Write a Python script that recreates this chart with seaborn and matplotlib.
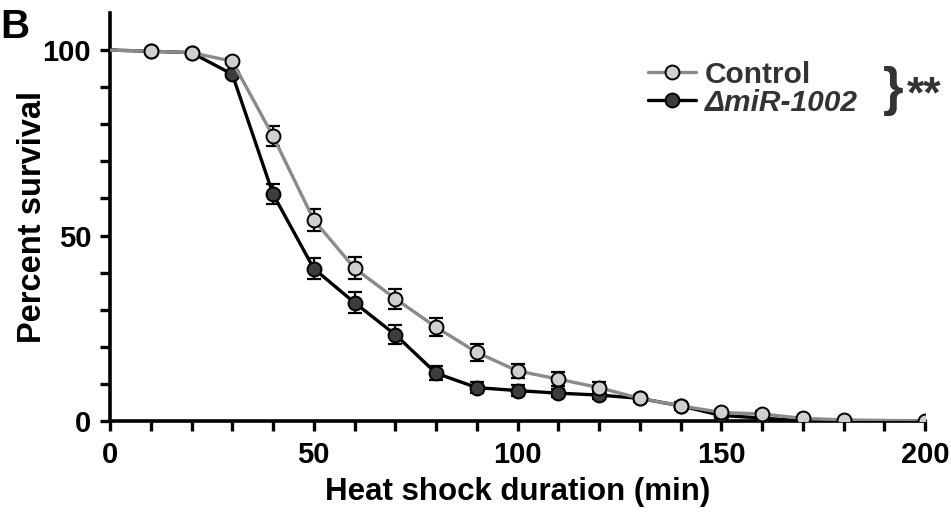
import matplotlib
matplotlib.use("Agg")
import matplotlib.pyplot as plt
import seaborn as sns
import pandas as pd
from matplotlib.lines import Line2D

# survival curves
minutes_ctrl = [0, 10, 20, 30, 40, 50, 60, 70, 80, 90, 100, 110, 120, 130, 140, 150, 160, 170, 180, 200]
surv_ctrl = [100, 99.7, 99.3, 97.0, 76.8, 54.2, 41.2, 33.0, 25.3, 18.5, 13.5, 11.3, 9.0, 6.1, 4.1, 2.3, 1.9, 0.7, 0.3, 0.0]
err_ctrl = [0, 0, 0, 0.8, 2.6, 3.0, 2.9, 2.7, 2.5, 2.2, 1.8, 1.8, 1.6, 1.0, 1.0, 0.8, 0.8, 0.5, 0.3, 0]

minutes_ko = [0, 10, 20, 30, 40, 50, 60, 70, 80, 90, 100, 110, 120, 130, 140, 150, 160, 170]
surv_ko = [100, 99.7, 99.3, 93.5, 61.2, 41.1, 31.9, 23.3, 12.9, 9.0, 8.2, 7.5, 7.0, 6.1, 4.1, 1.5, 0.8, 0.0]
err_ko = [0, 0, 0, 0.8, 2.8, 2.8, 2.8, 2.5, 1.8, 1.5, 1.5, 1.0, 1.0, 0.8, 0.8, 0.6, 0.5, 0]

labels = ["Control", "ΔmiR-1002"]

ctrl = pd.DataFrame({"min": minutes_ctrl, "surv": surv_ctrl, "err": err_ctrl})
ko = pd.DataFrame({"min": minutes_ko, "surv": surv_ko, "err": err_ko})

sns.set_style("ticks")
plt.rcParams["font.family"] = ["Liberation Sans", "DejaVu Sans"]
plt.rcParams["font.weight"] = "bold"
plt.rcParams["text.color"] = "black"
plt.rcParams["axes.labelcolor"] = "black"
plt.rcParams["xtick.color"] = "black"
plt.rcParams["ytick.color"] = "black"
plt.rcParams["axes.edgecolor"] = "black"

fig, ax = plt.subplots(figsize=(9.51, 5.13), dpi=100)
fig.subplots_adjust(left=110/951, right=925/951, bottom=1-421/513, top=1-13/513)

styles = [
    (ko, "black", "#3d3d3d"),
    (ctrl, "#8a8a8a", "#cfcfcf"),
]
for df, lc, fc in styles:
    ax.errorbar(df["min"], df["surv"], yerr=df["err"], fmt="none",
                ecolor="black", elinewidth=1.6, capsize=5, capthick=1.6, zorder=2)
    sns.lineplot(data=df, x="min", y="surv", ax=ax, color=lc, linewidth=2.4,
                 marker="o", markersize=10, markerfacecolor=fc,
                 markeredgecolor="black", markeredgewidth=1.4,
                 markevery=slice(1, None), zorder=3)

ax.set_xlim(0, 200)
ax.set_ylim(0, 110)
ax.set_xticks([0, 50, 100, 150, 200])
ax.set_xticks(range(0, 201, 10), minor=True)
ax.set_yticks([0, 50, 100])
ax.set_yticks(range(0, 101, 10), minor=True)
ax.tick_params(which="both", length=7.5, width=2.4, direction="out", labelsize=21)
ax.tick_params(axis="x", pad=7)
ax.tick_params(axis="y", pad=6)
for lab in ax.get_xticklabels() + ax.get_yticklabels():
    lab.set_fontweight("bold")
for s in ["left", "bottom"]:
    ax.spines[s].set_linewidth(2.6)
sns.despine(ax=ax)

ax.set_xlabel("Heat shock duration (min)", fontsize=22.5, fontweight="bold", labelpad=6)
ax.set_ylabel("Percent survival", fontsize=23.5, fontweight="bold", labelpad=-4)

handles = [
    Line2D([], [], color="#8a8a8a", lw=2.4, marker="o", markersize=10,
           markerfacecolor="#cfcfcf", markeredgecolor="black", markeredgewidth=1.4),
    Line2D([], [], color="black", lw=2.4, marker="o", markersize=10,
           markerfacecolor="#3d3d3d", markeredgecolor="black", markeredgewidth=1.4),
]
leg = fig.legend(handles, labels, loc="upper left", bbox_to_anchor=(633/951, 1-46/513),
                 frameon=False, fontsize=21.5, handlelength=1.6, handletextpad=0.3,
                 labelspacing=0.0, borderpad=0)
for t in leg.get_texts():
    t.set_fontweight("bold")
    t.set_color("#333333")
leg.get_texts()[1].set_fontstyle("italic")

fig.text(883/951, 1-91/513, "}", fontsize=38, va="center", ha="left", color="#333333")
fig.text(907/951, 1-96/513, "**", fontsize=32, fontweight="bold", va="center", ha="left", color="#333333")
fig.text(0/951, 1-27/513, "B", fontsize=29, fontweight="bold", va="center", ha="left")

fig.savefig("out.png", dpi=100)
